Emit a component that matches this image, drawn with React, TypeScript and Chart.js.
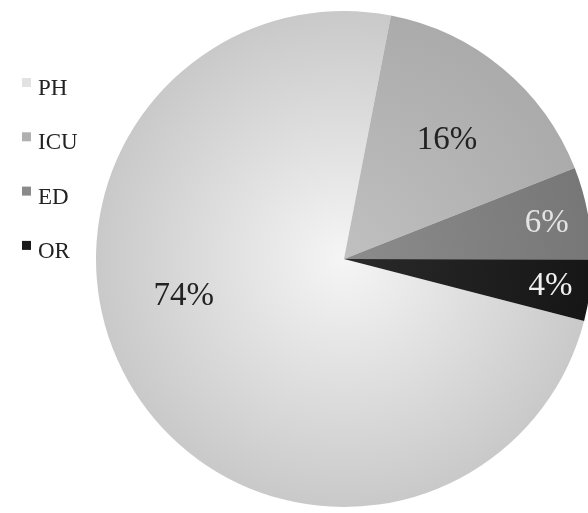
import React, { useEffect, useRef } from "react";
import { Chart, registerables } from "chart.js";

Chart.register(...registerables);

const labels = ["PH", "ICU", "ED", "OR"];
const values = [74, 16, 6, 4];
const innerColors = ["#f5f5f5", "#c0c0c0", "#8c8c8c", "#2a2a2a"];
const outerColors = ["#c9c9c9", "#ababab", "#777777", "#161616"];
const legendColors = ["#e2e2e2", "#b0b0b0", "#8a8a8a", "#1a1a1a"];
const labelColors = ["#222222", "#222222", "#e4e4e4", "#f0f0f0"];
const labelAngleFrac = [0.572, 0.52, 0.53, 0.51];
const labelRadiusFrac = [0.664, 0.635, 0.83, 0.84];

const percentLabels = {
  id: "percentLabels",
  afterDatasetsDraw(chart: any) {
    const ctx = chart.ctx;
    const meta = chart.getDatasetMeta(0);
    ctx.save();
    ctx.font = '33px "Liberation Serif", "Times New Roman", serif';
    ctx.textAlign = "center";
    ctx.textBaseline = "middle";
    meta.data.forEach((arc: any, i: number) => {
      const p = arc.getProps(["x", "y", "startAngle", "endAngle", "outerRadius"], true);
      const a = p.startAngle + (p.endAngle - p.startAngle) * labelAngleFrac[i];
      const r = p.outerRadius * labelRadiusFrac[i];
      ctx.fillStyle = labelColors[i];
      ctx.fillText(values[i] + "%", p.x + Math.cos(a) * r, p.y + Math.sin(a) * r);
    });
    ctx.restore();
  },
};

const sideLegend = {
  id: "sideLegend",
  afterDraw(chart: any) {
    const ctx = chart.ctx;
    ctx.save();
    ctx.font = '23px "Liberation Serif", "Times New Roman", serif';
    ctx.textAlign = "left";
    ctx.textBaseline = "alphabetic";
    chart.data.labels.forEach((lab: string, i: number) => {
      const base = 95 + i * 54.3;
      ctx.fillStyle = legendColors[i];
      ctx.fillRect(22, base - 17, 9, 9);
      ctx.fillStyle = "#222222";
      ctx.fillText(lab, 38, base);
    });
    ctx.restore();
  },
};

export default function App() {
  const ref = useRef<HTMLCanvasElement>(null);
  useEffect(() => {
    if (!ref.current) return;
    const chart = new Chart(ref.current, {
      type: "pie",
      data: {
        labels,
        datasets: [
          {
            data: values,
            borderWidth: 0,
            hoverOffset: 0,
            backgroundColor: (c: any) => {
              const i = c.dataIndex ?? 0;
              const chartObj = c.chart;
              const area = chartObj.chartArea;
              if (!area) return outerColors[i];
              const cx = (area.left + area.right) / 2;
              const cy = (area.top + area.bottom) / 2;
              const r = Math.min(area.right - area.left, area.bottom - area.top) / 2;
              const g = chartObj.ctx.createRadialGradient(cx, cy, 0, cx, cy, r);
              g.addColorStop(0, innerColors[i]);
              g.addColorStop(1, outerColors[i]);
              return g;
            },
          },
        ],
      },
      options: {
        responsive: false,
        animation: false,
        devicePixelRatio: 1,
        rotation: 104.5,
        layout: { padding: { left: 96, top: 11, right: 8, bottom: 6 } },
        plugins: {
          legend: { display: false },
          tooltip: { enabled: false },
        },
        events: [],
      },
      plugins: [percentLabels, sideLegend],
    });
    return () => chart.destroy();
  }, []);
  return (
    <div
      style={{
        position: "fixed",
        left: 0,
        top: 0,
        width: 588,
        height: 513,
        overflow: "hidden",
        background: "#ffffff",
      }}
    >
      <canvas ref={ref} width={600} height={513} style={{ display: "block" }} />
    </div>
  );
}
